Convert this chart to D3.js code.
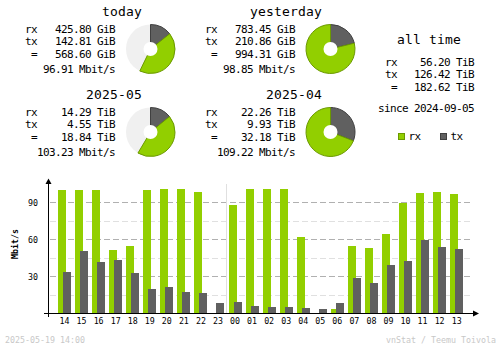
<!DOCTYPE html>
<html>
<head>
<meta charset="utf-8">
<script src="https://cdn.jsdelivr.net/npm/d3@7"></script>
<style>
  html, body { margin: 0; padding: 0; background: #fff; }
  svg { display: block; }
  text { font-family: "DejaVu Sans Mono", monospace; fill: #000; }
</style>
</head>
<body>
<svg id="chart" width="500" height="348"></svg>
<script>
// ---- hourly traffic, last 24 hours (Mbit/s) ----
const hours  = ["14","15","16","17","18","19","20","21","22","23",
                "00","01","02","03","04","05","06","07","08","09","10","11","12","13"];
const rxRate = [100.1, 100.1, 100.1, 51.5, 54.7, 100.1, 100.9, 100.9, 98.5, 0,
                88.0, 100.9, 100.9, 100.9, 62.0, 0, 3.6, 54.7, 53.1, 64.5, 89.6, 97.7, 98.5, 96.9];
const txRate = [33.6, 50.7, 41.8, 43.4, 32.8, 19.9, 21.5, 17.4, 16.6, 8.5,
                9.3, 6.1, 5.3, 5.3, 4.5, 3.6, 8.5, 28.8, 24.7, 39.3, 42.6, 59.6, 53.9, 52.3];
const yTicks = [30, 60, 90];
const yMinorTicks = [15, 45, 75];

// ---- period summaries ----
const periodTitles = ["today", "yesterday", "2025-05", "2025-04"];
const periodRx     = [425.80, 783.45, 14.29, 22.26];
const periodTx     = [142.81, 210.86, 4.55, 9.93];
const periodTotal  = [568.60, 994.31, 18.84, 32.18];
const periodUnit   = ["GiB", "GiB", "TiB", "TiB"];
const periodRate   = [96.91, 98.85, 103.23, 109.22];

// ---- all time ----
const allRx = 56.20, allTx = 126.42, allTotal = 182.62, allUnit = "TiB";
const sinceDate = "2024-09-05";
const stamp = "2025-05-19 14:00";
const credit = "vnStat / Teemu Toivola";

const C = {
  rx: "#92cf00", rxEdge: "#6b9900",
  tx: "#606060", txEdge: "#404040",
  offset: "#f0f0f0",
  line: "#b0b0b0", lineLight: "#e0e0e0",
  faint: "#c8c8c8"
};

const svg = d3.select("#chart");

// ---------- summary blocks ----------
const bodyFont = { size: "11px", spacing: "-0.62px" };

function txt(g, x, y, s, anchor, opts = {}) {
  return g.append("text")
    .attr("x", x).attr("y", y)
    .attr("text-anchor", anchor || "start")
    .style("font-size", opts.size || bodyFont.size)
    .style("letter-spacing", opts.spacing || bodyFont.spacing)
    .style("font-weight", opts.weight || "normal")
    .style("fill", opts.fill || "#000")
    .text(s);
}

const arc = d3.arc().innerRadius(0).outerRadius(24.5);

function donut(g, cx, cy, rxFrac, txFrac) {
  const p = g.append("g").attr("transform", `translate(${cx},${cy})`);
  if (rxFrac + txFrac < 0.999) {
    p.append("circle").attr("r", 24.5).attr("fill", C.offset);
  }
  const a0 = 0, a1 = txFrac * 2 * Math.PI, a2 = (txFrac + rxFrac) * 2 * Math.PI;
  if (txFrac > 0) {
    p.append("path").attr("d", arc({ startAngle: a0, endAngle: a1 }))
      .attr("fill", C.tx).attr("stroke", C.txEdge).attr("stroke-width", 1);
  }
  if (rxFrac > 0) {
    p.append("path").attr("d", arc({ startAngle: a1, endAngle: a2 }))
      .attr("fill", C.rx).attr("stroke", C.rxEdge).attr("stroke-width", 1);
  }
  p.append("circle").attr("r", 7).attr("fill", "#fff");
}

const fmt = v => v.toFixed(2);
const blockOffsets = [[0, 0], [180, 0], [0, 83], [180, 83]];
const pairOf = [1, 0, 3, 2];

periodTitles.forEach((title, i) => {
  const [ox, oy] = blockOffsets[i];
  const g = svg.append("g").attr("transform", `translate(${ox},${oy})`);
  txt(g, 142, 16, title, "end", { size: "13px", spacing: "0.17px" });
  txt(g, 25, 33, "rx");
  txt(g, 115, 33, fmt(periodRx[i]) + " " + periodUnit[i], "end");
  txt(g, 25, 45, "tx");
  txt(g, 115, 45, fmt(periodTx[i]) + " " + periodUnit[i], "end");
  txt(g, 31, 58, "=");
  txt(g, 115, 58, fmt(periodTotal[i]) + " " + periodUnit[i], "end");
  txt(g, 115, 73, fmt(periodRate[i]) + " Mbit/s", "end");
  const max = Math.max(periodTotal[i], periodTotal[pairOf[i]]);
  donut(g, 150.5, 49, periodRx[i] / max, periodTx[i] / max);
});

// all time column
const at = svg.append("g");
txt(at, 429, 44, "all time", "middle", { size: "13px", spacing: "0.17px" });
txt(at, 385, 66, "rx");
txt(at, 474, 66, fmt(allRx) + " " + allUnit, "end");
txt(at, 385, 78, "tx");
txt(at, 474, 78, fmt(allTx) + " " + allUnit, "end");
txt(at, 391, 91, "=");
txt(at, 474, 91, fmt(allTotal) + " " + allUnit, "end");
txt(at, 474, 112, "since " + sinceDate, "end");

// legend
const legend = [["rx", C.rx, C.rxEdge, 398], ["tx", C.tx, C.txEdge, 440]];
legend.forEach(([name, fill, edge, lx]) => {
  at.append("rect").attr("x", lx + 0.5).attr("y", 133.5).attr("width", 6).attr("height", 6)
    .attr("fill", fill).attr("stroke", edge).attr("stroke-width", 1);
  txt(at, lx + 10.5, 140, name);
});

// ---------- hourly bar chart ----------
const step = 17.05;
const x = d3.scaleBand().domain(hours).range([57.5, 57.5 + hours.length * step]);
const y = d3.scaleLinear().domain([0, 105]).range([313.5, 184]);
const base = 313;

const chart = svg.append("g");
const gridLeft = 50, gridRight = 472;

// minor grid
chart.selectAll(".minor").data(yMinorTicks).join("line")
  .attr("x1", gridLeft).attr("x2", gridRight)
  .attr("y1", d => Math.floor(y(d)) + 0.5).attr("y2", d => Math.floor(y(d)) + 0.5)
  .attr("stroke", C.lineLight).attr("stroke-dasharray", "6,3");
// major grid
chart.selectAll(".major").data(yTicks).join("line")
  .attr("x1", gridLeft).attr("x2", gridRight)
  .attr("y1", d => Math.floor(y(d)) + 0.5).attr("y2", d => Math.floor(y(d)) + 0.5)
  .attr("stroke", C.line).attr("stroke-dasharray", "6,3");

// day change marker before 00
const dayX = Math.round(x("00")) - 1.5;
chart.append("line").attr("x1", dayX).attr("x2", dayX).attr("y1", 184).attr("y2", base)
  .attr("stroke", C.lineLight);

const barX = h => Math.round(x(h) + 0.5);
const bars = hours.map((h, i) => ({ h, rx: rxRate[i], tx: txRate[i] }));

chart.selectAll(".rxbar").data(bars.filter(d => d.rx > 0)).join("rect")
  .attr("x", d => barX(d.h)).attr("width", 8)
  .attr("y", d => Math.round(y(d.rx))).attr("height", d => base - Math.round(y(d.rx)))
  .attr("fill", C.rx).attr("shape-rendering", "crispEdges");
chart.selectAll(".txbar").data(bars.filter(d => d.tx > 0)).join("rect")
  .attr("x", d => barX(d.h) + 5).attr("width", 8)
  .attr("y", d => Math.round(y(d.tx))).attr("height", d => base - Math.round(y(d.tx)))
  .attr("fill", C.tx).attr("shape-rendering", "crispEdges");

// y axis labels
const yAxis = d3.axisLeft(y).tickValues(yTicks).tickSize(0).tickPadding(10.5);
const yg = chart.append("g").attr("transform", "translate(48.5,0)").call(yAxis);
yg.select(".domain").remove();
yg.selectAll("text").style("font-family", '"DejaVu Sans Mono", monospace')
  .style("font-size", "8.3px").attr("fill", "#000");

// x axis labels
const xAxis = d3.axisBottom(x).tickSize(0).tickPadding(5);
const xg = chart.append("g").attr("transform", "translate(-1.5,313.5)").call(xAxis);
xg.select(".domain").remove();
xg.selectAll("text").style("font-family", '"DejaVu Sans Mono", monospace')
  .style("font-size", "8.3px").attr("fill", "#000");

// axis lines with arrows
chart.append("line").attr("x1", 48.5).attr("x2", 48.5).attr("y1", 181).attr("y2", 317)
  .attr("stroke", "#000");
chart.append("path").attr("d", "M45.5,184L51.5,184L48.5,178.5Z").attr("fill", "#000");
chart.append("line").attr("x1", 44).attr("x2", 475).attr("y1", 313.5).attr("y2", 313.5)
  .attr("stroke", "#000");
chart.append("path").attr("d", "M473,310.5L473,316.5L479,313.5Z").attr("fill", "#000");

// unit label
chart.append("text").attr("transform", "translate(17.5,244) rotate(-90)")
  .attr("text-anchor", "middle")
  .style("font-size", "8.3px").style("font-weight", "bold")
  .text("Mbit/s");

// footer
txt(svg, 5, 343, stamp, "start", { size: "8.3px", spacing: "0px", fill: C.faint });
txt(svg, 496, 343, credit, "end", { size: "8.3px", spacing: "0px", fill: C.faint });
</script>
</body>
</html>
